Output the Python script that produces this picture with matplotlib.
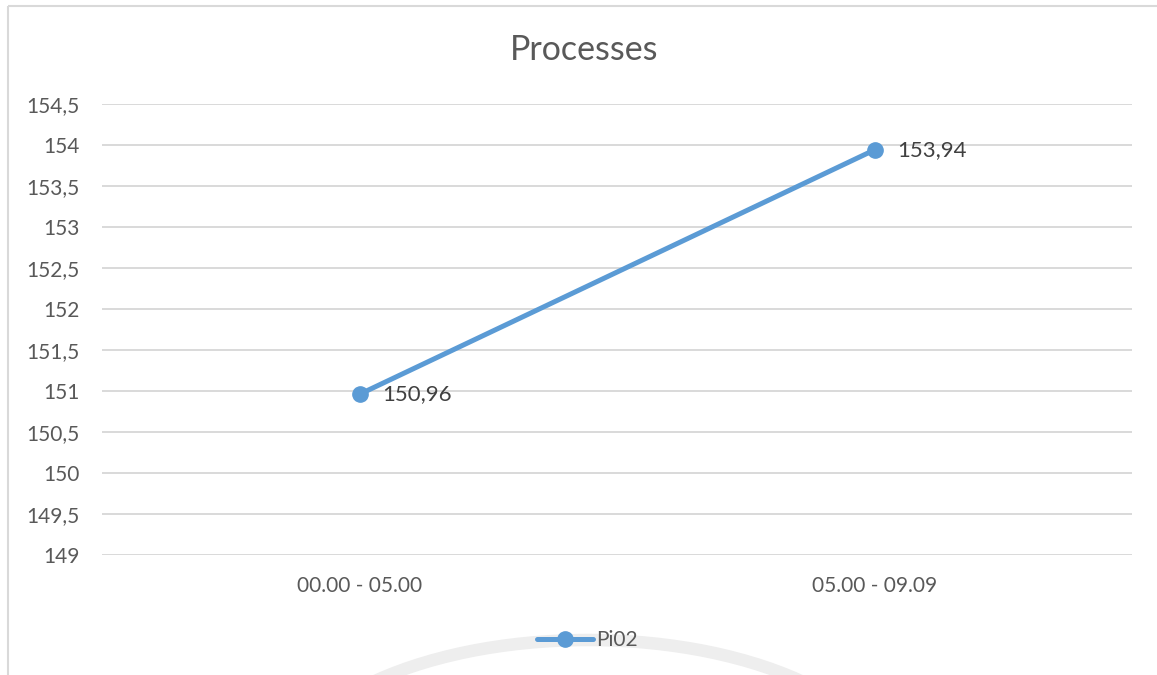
import matplotlib
matplotlib.use("Agg")
import matplotlib.pyplot as plt
from matplotlib.patches import Arc
from matplotlib.ticker import FuncFormatter

# data
categories = ["00.00 - 05.00", "05.00 - 09.09"]
pi02 = [150.96, 153.94]
series_name = "Pi02"
title = "Processes"
y_ticks = [149, 149.5, 150, 150.5, 151, 151.5, 152, 152.5, 153, 153.5, 154, 154.5]

blue = "#5B9BD5"
grey_txt = "#595959"
grid_col = "#D9D9D9"

plt.rcParams["font.family"] = ["Lato", "DejaVu Sans"]

W, H = 1157, 675
fig = plt.figure(figsize=(W / 100, H / 100), dpi=100)
fig.patch.set_facecolor("white")

# background layer in pixel coords: chart border and faint watermark arc
bg = fig.add_axes([0, 0, 1, 1], zorder=0)
bg.set_xlim(0, W)
bg.set_ylim(H, 0)
bg.axis("off")
bg.plot([8, W], [6, 6], color="#D9D9D9", lw=1.5, solid_capstyle="butt")
bg.plot([8, 8], [6, H], color="#D9D9D9", lw=1.5, solid_capstyle="butt")
# y axis is flipped here, so the upper half of the arc is 205..335 deg
bg.add_patch(Arc((588, 790), 620, 300, theta1=205, theta2=335, color="#EEEEEE", lw=9))

ax = fig.add_axes([102 / W, 1 - 555 / H, (1132 - 102) / W, (555 - 104) / H], zorder=2)
ax.set_facecolor("none")

x = list(range(len(categories)))
ax.plot(x, pi02, color=blue, lw=3.6, marker="o", markersize=11,
        solid_capstyle="round", label=series_name, zorder=3)

for xi, v in zip(x, pi02):
    ax.annotate(f"{v:.2f}".replace(".", ","), (xi, v), xytext=(16, 0),
                textcoords="offset points", ha="left", va="center",
                fontsize=16, color="#404040")

ax.set_xlim(-0.5, len(categories) - 0.5)
ax.set_ylim(149, 154.5)
ax.set_yticks(y_ticks)
ax.yaxis.set_major_formatter(FuncFormatter(lambda v, p: f"{v:g}".replace(".", ",")))
ax.set_xticks(x)
ax.set_xticklabels(categories)
ax.grid(axis="y", color=grid_col, lw=1.4)
ax.set_axisbelow(True)
for s in ax.spines.values():
    s.set_visible(False)
ax.tick_params(axis="both", length=0, labelsize=15, labelcolor=grey_txt)
ax.tick_params(axis="y", pad=16)
ax.tick_params(axis="x", pad=15)

fig.text(584 / W, 1 - 50 / H, title, ha="center", va="center",
         fontsize=24.5, color=grey_txt)

ax.legend(loc="center", bbox_to_anchor=(587 / W, 1 - 640 / H),
          bbox_transform=fig.transFigure, frameon=False, fontsize=15,
          handlelength=2.7, handletextpad=0.15, labelcolor=grey_txt)

fig.savefig("out.png", dpi=100)
